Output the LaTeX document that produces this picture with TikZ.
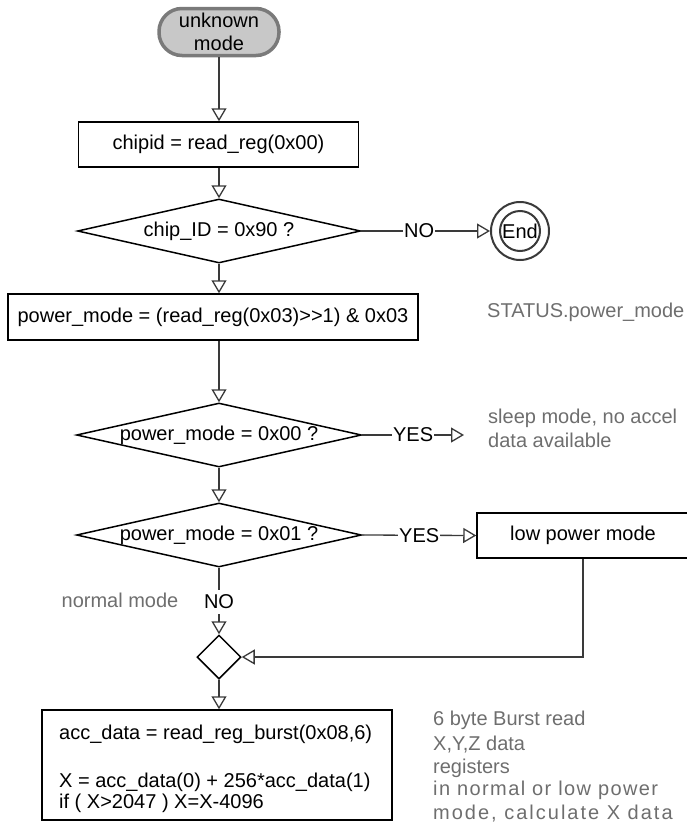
\documentclass[tikz,border=0pt]{standalone}
\usepackage{fontspec}
\setmainfont{Liberation Sans}
\newfontfamily\spreadA[LetterSpace=7]{Liberation Sans}
\newfontfamily\spreadB[LetterSpace=10]{Liberation Sans}
\usetikzlibrary{arrows.meta,shapes.geometric,calc}
\definecolor{linec}{HTML}{3A3A3A}
\definecolor{notec}{HTML}{6E6E6E}
\definecolor{termfill}{HTML}{C8C8C8}
\definecolor{termdraw}{HTML}{7A7A7A}
\begin{document}
\begin{tikzpicture}[x=1pt,y=-1pt,
  every node/.style={font=\fontsize{20}{23}\selectfont, inner sep=0pt},
  procbox/.style={draw=black, line width=1.5pt, rectangle, fill=white},
  decision/.style={draw=black, line width=1.5pt, diamond, inner sep=0pt, fill=white},
  flow/.style={draw=linec, line width=1.3pt, -{Triangle[open,length=13pt,width=15pt]}},
  note/.style={text=notec, anchor=base west},
  boxtext/.style={anchor=base west},
  lbl/.style={fill=white, inner xsep=1pt, inner ysep=2pt}]

\useasboundingbox (0,0) rectangle (686,822);

% nodes
\node[rectangle, rounded corners=23pt, draw=termdraw, line width=3.5pt, fill=termfill,
      minimum width=120pt, minimum height=47pt, align=center] (start) at (219,32) {unknown\\mode};
\node[procbox, minimum width=280pt, minimum height=45pt] (chip) at (218.5,144.5) {chipid = read\_reg(0x00)};
\node[decision, minimum width=283pt, minimum height=64pt] (d1) at (219,231) {\makebox[0pt]{chip\_ID = 0x90 ?}};
\node[circle, draw=linec, line width=2pt, minimum size=58pt] (end) at (520,231) {End};
\draw[linec, line width=2pt] (end.center) circle[radius=20pt];
\node[procbox, minimum width=410pt, minimum height=46pt] (pm) at (213,317) {power\_mode = (read\_reg(0x03)>{}>1) \& 0x03};
\node[note] (status) at (487,317) {STATUS.power\_mode};
\node[decision, minimum width=285pt, minimum height=64pt] (d2) at (219,435) {\makebox[0pt]{power\_mode = 0x00 ?}};
\node[note] (sleep1) at (488,423) {sleep mode, no accel};
\node[note] (sleep2) at (488,447) {data available};
\coordinate (sleepin) at (464,435);
\node[decision, minimum width=285pt, minimum height=64pt] (d3) at (219,535) {\makebox[0pt]{power\_mode = 0x01 ?}};
\node[procbox, minimum width=212pt, minimum height=45pt] (lp) at (583,535.5) {low power mode};
\node[text=notec] (normal) at (120,600) {normal mode};
\node[diamond, draw=black, line width=1.5pt, fill=white, minimum width=44pt, minimum height=44pt] (merge) at (219,657) {};
\node[procbox, minimum width=350pt, minimum height=110pt] (acc) at (217,765) {};
\node[boxtext] (acc1) at (59,739) {acc\_data = read\_reg\_burst(0x08,6)};
\node[boxtext] (acc2) at (59,787) {X = acc\_data(0) + 256*acc\_data(1)};
\node[boxtext] (acc3) at (59,808) {if ( X>2047 ) X=X-4096};
\node[note] (r1) at (433,725) {6 byte Burst read};
\node[note] (r2) at (433,750) {X,Y,Z data};
\node[note] (r3) at (433,773) {registers};
\node[note] (r4) at (433,795) {\spreadA in normal or low power};
\node[note] (r5) at (433,819) {\spreadB mode, calculate X data};

% connectors
\draw[flow] (start.south) -- (start.south |- chip.north);
\draw[flow] (chip.south -| d1.north) -- (d1.north);
\draw[flow] (d1.east) -- node[lbl, pos=0.45]{NO} (end.west);
\draw[flow] (d1.south) -- (d1.south |- pm.north);
\draw[flow] (d2.north |- pm.south) -- (d2.north);
\draw[flow] (d2.east) -- node[lbl, pos=0.5]{YES} (sleepin);
\draw[flow] (d2.south) -- (d3.north);
\draw[flow] (d3.east) -- node[lbl, pos=0.5]{YES} (lp.west);
\draw[flow] (d3.south) -- node[lbl, pos=0.51, inner ysep=5pt]{NO} (merge.north);
\draw[flow] (lp.south) |- (merge.east);
\draw[flow] (merge.south) -- (merge.south |- acc.north);
\end{tikzpicture}
\end{document}
